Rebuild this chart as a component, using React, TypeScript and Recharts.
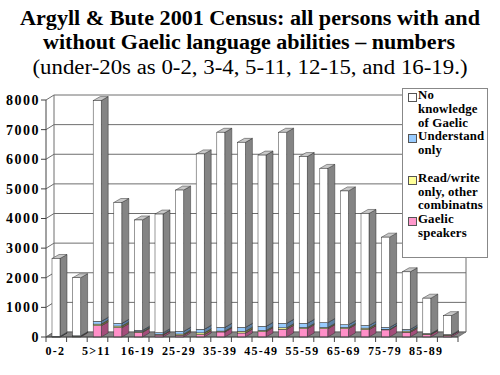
import { BarChart, Bar, XAxis, YAxis, CartesianGrid, Legend } from "recharts";

// Argyll & Bute 2001 Census, persons by age group and Gaelic ability
const ageGroups = [
  "0-2", "3-4", "5>11", "12-15", "16-19", "20-24", "25-29", "30-34", "35-39", "40-44",
  "45-49", "50-54", "55-59", "60-64", "65-69", "70-74", "75-79", "80-84", "85-89", "90+",
];
const gaelicSpeakers = [5, 20, 380, 315, 155, 65, 60, 80, 170, 135, 180, 260, 280, 280, 280, 250, 240, 160, 80, 55];
const readWriteOther = [10, 10, 55, 55, 30, 30, 40, 60, 30, 60, 40, 50, 40, 40, 40, 50, 20, 40, 20, 15];
const understandOnly = [10, 10, 95, 90, 40, 50, 90, 120, 125, 130, 140, 150, 140, 165, 95, 90, 65, 60, 15, 10];
const noKnowledge = [
  2625, 1960, 7450, 4080, 3725, 4005, 4770, 5920, 6585, 6245,
  5780, 6450, 5630, 5205, 4515, 3780, 3045, 1940, 1195, 640,
];
const yTicks = [0, 1000, 2000, 3000, 4000, 5000, 6000, 7000, 8000];

const legendItems = [
  { color: "#ffffff", lines: ["No", "knowledge", "of Gaelic"] },
  { color: "#99ccff", lines: ["Understand", "only", ""] },
  { color: "#ffff99", lines: ["Read/write", "only, other", "combinatns"] },
  { color: "#ff99cc", lines: ["Gaelic", "speakers"] },
];

const data = ageGroups.map((age, i) => ({
  age,
  speakers: gaelicSpeakers[i],
  readWrite: readWriteOther[i],
  understand: understandOnly[i],
  none: noKnowledge[i],
}));

const FONT = '"Liberation Serif", "Times New Roman", serif';
const W = 500;
const H = 375;
const MARGIN = { top: 100, right: 42, bottom: 0, left: 0 };
const X_AXIS_H = 38;
const Y_AXIS_W = 46;
const PLOT_TOP = MARGIN.top;
const PLOT_BOTTOM = H - X_AXIS_H;
const BAR_DX = 7;
const BAR_DY = 4;
const WALL_DX = 8;
const WALL_DY = 5;

function box3d(front: string, side: string, top: string) {
  return (p: any) => {
    const { x, y, width, height } = p;
    if (!(height > 0)) return <g />;
    const r = x + width;
    const b = y + height;
    return (
      <g stroke="#333" strokeWidth={0.5}>
        <polygon
          points={`${r},${y} ${r + BAR_DX},${y - BAR_DY} ${r + BAR_DX},${b - BAR_DY} ${r},${b}`}
          fill={side}
        />
        <polygon
          points={`${x},${y} ${r},${y} ${r + BAR_DX},${y - BAR_DY} ${x + BAR_DX},${y - BAR_DY}`}
          fill={top}
        />
        <rect x={x} y={y} width={width} height={height} fill={front} />
      </g>
    );
  };
}

// back wall, left wall and floor drawn off the y-axis grid lines
function wallLine(p: any) {
  const { x1, y1, x2, index } = p;
  const isFloor = Math.abs(y1 - PLOT_BOTTOM) < 0.5;
  const bx1 = x1 + WALL_DX;
  const bx2 = x2 + WALL_DX;
  const by = y1 - WALL_DY;
  return (
    <g key={`wall-${index}`}>
      {isFloor && (
        <>
          <polygon
            points={`${x1},${y1} ${x2},${y1} ${bx2},${by} ${bx1},${by}`}
            fill="#858585"
            stroke="#555"
            strokeWidth={0.6}
          />
          <line x1={bx1} y1={PLOT_TOP - WALL_DY} x2={bx1} y2={by} stroke="#6e6e6e" />
          <line x1={bx2} y1={PLOT_TOP - WALL_DY} x2={bx2} y2={by} stroke="#6e6e6e" />
        </>
      )}
      <line x1={x1} y1={y1} x2={bx1} y2={by} stroke="#6e6e6e" />
      <line x1={bx1} y1={by} x2={bx2} y2={by} stroke="#6e6e6e" />
    </g>
  );
}

function AgeTick(props: any) {
  const { x, payload, index } = props;
  const half = payload && payload.offset ? payload.offset : 10.3;
  const last = index === ageGroups.length - 1;
  return (
    <g>
      <line x1={x - half} y1={PLOT_BOTTOM} x2={x - half} y2={PLOT_BOTTOM + 5} stroke="#444" />
      {last && (
        <line x1={x + half} y1={PLOT_BOTTOM} x2={x + half} y2={PLOT_BOTTOM + 5} stroke="#444" />
      )}
      {index % 2 === 0 && (
        <text
          x={x - 1}
          y={PLOT_BOTTOM + 18}
          textAnchor="middle"
          fontFamily={FONT}
          fontWeight="bold"
          fontSize={12}
          letterSpacing={1.2}
          fill="#000"
        >
          {payload.value}
        </text>
      )}
    </g>
  );
}

function LegendBox() {
  return (
    <div
      style={{
        width: 86,
        height: 170,
        border: "1px solid #888",
        background: "#fff",
        boxSizing: "border-box",
        padding: "0 0 0 5px",
        fontFamily: FONT,
        fontWeight: "bold",
        fontSize: 12.8,
        lineHeight: "13.8px",
        letterSpacing: 0.15,
        color: "#000",
        textAlign: "left",
      }}
    >
      {legendItems.map((item, k) =>
        item.lines.map((line, i) => (
          <div
            key={`${k}-${i}`}
            style={{ position: "relative", paddingLeft: 10, height: 13.8, whiteSpace: "nowrap" }}
          >
            {i === 0 && (
              <span
                style={{
                  position: "absolute",
                  left: 0,
                  top: 4,
                  width: 7,
                  height: 7,
                  background: item.color,
                  border: "1px solid #555",
                }}
              />
            )}
            {line}
          </div>
        ))
      )}
    </div>
  );
}

export default function App() {
  return (
    <div
      style={{
        position: "absolute",
        left: 0,
        top: 0,
        width: W,
        height: H,
        background: "#fff",
        fontFamily: FONT,
      }}
    >
      <BarChart width={W} height={H} data={data} margin={MARGIN} barSize={8}>
        <CartesianGrid horizontal={wallLine} vertical={false} />
        <XAxis
          dataKey="age"
          interval={0}
          tick={<AgeTick />}
          tickLine={false}
          axisLine={{ stroke: "#444" }}
          height={X_AXIS_H}
        />
        <YAxis
          domain={[0, 8000]}
          ticks={yTicks}
          interval={0}
          width={Y_AXIS_W}
          tickSize={5}
          tickMargin={1}
          axisLine={{ stroke: "#444" }}
          tickLine={{ stroke: "#444" }}
          tick={{
            fontFamily: FONT,
            fontWeight: "bold",
            fontSize: 14,
            letterSpacing: 1.5,
            fill: "#000",
          }}
        />
        <Legend
          layout="vertical"
          align="center"
          verticalAlign="middle"
          content={<LegendBox />}
          wrapperStyle={{ left: 402, top: 88, width: 86, height: 170 }}
        />
        <Bar dataKey="speakers" name="Gaelic speakers" stackId="a" fill="#ff8fc8"
          shape={box3d("#ff8fc8", "#a34d7a", "#d47aa8")} isAnimationActive={false} />
        <Bar dataKey="readWrite" name="Read/write only, other combinatns" stackId="a" fill="#ffff99"
          shape={box3d("#ffff99", "#7d7d3a", "#cccc77")} isAnimationActive={false} />
        <Bar dataKey="understand" name="Understand only" stackId="a" fill="#99ccff"
          shape={box3d("#99ccff", "#5c7fa3", "#7fa8d0")} isAnimationActive={false} />
        <Bar dataKey="none" name="No knowledge of Gaelic" stackId="a" fill="#ffffff"
          shape={box3d("#ffffff", "#848484", "#c8c8c8")} isAnimationActive={false} />
      </BarChart>
      <svg
        width={W}
        height={86}
        style={{ position: "absolute", left: 0, top: 0, pointerEvents: "none" }}
      >
        <g fontFamily={FONT} fill="#000" textAnchor="middle">
          <text x={250} y={25} fontSize={20.5} fontWeight="bold" textLength={460} lengthAdjust="spacingAndGlyphs">
            Argyll &amp; Bute 2001 Census: all persons with and
          </text>
          <text x={249} y={49} fontSize={20.5} fontWeight="bold" textLength={412} lengthAdjust="spacingAndGlyphs">
            without Gaelic language abilities – numbers
          </text>
          <text x={250} y={74} fontSize={20.5} textLength={435} lengthAdjust="spacingAndGlyphs">
            (under-20s as 0-2, 3-4, 5-11, 12-15, and 16-19.)
          </text>
        </g>
      </svg>
    </div>
  );
}
